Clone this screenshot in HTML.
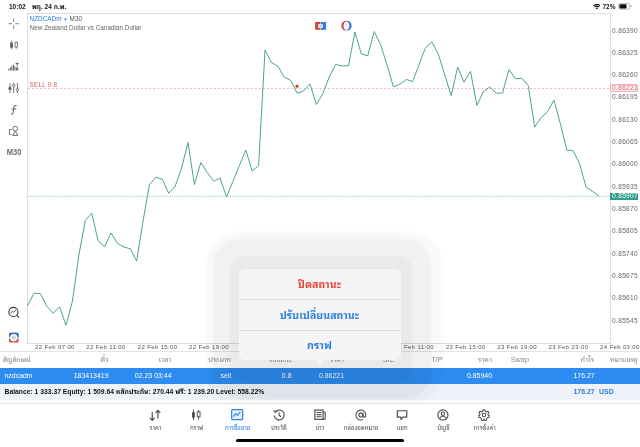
<!DOCTYPE html>
<html lang="th"><head><meta charset="utf-8"><title>MetaTrader</title>
<style>
html,body{margin:0;padding:0;}
body{will-change:transform;width:640px;height:447px;position:relative;overflow:hidden;background:#fff;font-family:"Liberation Sans","Noto Sans Thai Looped","Loma","Noto Sans Thai",sans-serif;color:#000;}
div{position:absolute;white-space:nowrap;box-sizing:border-box;}
.sb{top:2.6px;font-size:6.5px;font-weight:bold;line-height:8px;color:#111;}
.pl{left:612px;font-size:6.6px;line-height:8px;color:#666;letter-spacing:0.32px;}
.tl{top:343.6px;font-size:6px;line-height:7px;color:#555;letter-spacing:0.37px;}
.th{top:355.3px;font-size:7.3px;line-height:10px;color:#8a8a8a;}
.td{top:370.8px;font-size:6.95px;line-height:10px;color:#fff;}
.r{text-align:right;}
.tab{top:409.3px;width:50px;height:24px;text-align:center;color:#555;}
.tab svg{display:block;margin:0 auto;overflow:visible;}
.tab.on{color:#2f80e4;}
.tt{position:absolute;top:14.7px;left:0;width:50px;text-align:center;font-size:6px;line-height:8px;}
.pi{left:238.5px;width:162px;text-align:center;font-size:10.6px;font-weight:bold;line-height:16px;color:#2f7fe0;}
</style></head><body>
<!-- status bar -->
<div class="sb" style="left:9px">10:02</div>
<div class="sb" style="left:32px">พฤ. 24 ก.พ.</div>
<div class="sb" style="left:602.5px">72%</div>
<svg style="position:absolute;left:592.8px;top:3.7px" width="7.6" height="5.6" viewBox="0 0 7.6 5.6"><path d="M0.3 1.9a4.9 4.9 0 0 1 7 0M1.5 3.1a3.2 3.2 0 0 1 4.6 0" fill="none" stroke="#111" stroke-width="1.05"/><path d="M2.6 4.2a1.7 1.7 0 0 1 2.4 0L3.8 5.5z" fill="#111"/></svg>
<svg style="position:absolute;left:617.6px;top:3.4px" width="14.6" height="7" viewBox="0 0 14 7"><rect x="0.4" y="0.4" width="11.2" height="5.8" rx="1.6" fill="none" stroke="#999" stroke-width="0.7"/><rect x="1.2" y="1.2" width="7" height="4.2" rx="0.9" fill="#111"/><path d="M12.3 2.3v2a1 1 0 0 0 0-2z" fill="#999"/></svg>

<!-- chart frame -->
<div style="left:27px;top:12.6px;width:584px;height:331px;border:1px solid #dedede;"></div>
<div style="left:29.6px;top:15.4px;font-size:6.4px;line-height:8px;color:#555;"><span style="color:#2a7be0">NZDCADm</span> <span style="color:#2a7be0;font-size:4.5px;position:relative;top:-0.5px">&#9660;</span> M30</div>
<div style="left:29.6px;top:23.5px;font-size:6.4px;line-height:8px;color:#666;">New Zealand Dollar vs Canadian Dollar</div>

<svg style="position:absolute;left:0;top:0" width="640" height="447" viewBox="0 0 640 447">
<line x1="28" y1="88.5" x2="610" y2="88.5" stroke="#efa8a8" stroke-width="0.85" stroke-dasharray="1.8 2.25"/>
<line x1="28" y1="196.4" x2="610" y2="196.4" stroke="#5fb5a0" stroke-width="0.7" stroke-dasharray="0.9 0.9"/>
<polyline points="27.50,306.00 33.92,293.25 40.34,293.50 46.76,306.00 53.18,313.25 59.60,306.75 66.02,325.25 72.44,301.00 78.86,255.00 85.28,220.50 91.70,213.25 98.12,240.75 104.54,246.75 110.96,233.00 117.38,243.25 123.80,247.00 130.22,248.75 136.64,261.00 143.06,221.00 149.48,184.50 155.90,177.25 162.32,179.25 168.74,193.25 175.16,186.25 181.58,168.00 188.00,142.50 194.42,184.50 200.84,162.50 207.26,172.50 213.68,181.25 220.10,178.00 226.52,197.00 232.94,181.25 239.36,165.50 245.78,150.00 252.20,171.00 258.62,165.50 265.04,50.00 271.46,62.50 277.88,66.25 284.30,77.00 290.72,80.50 297.14,93.25 303.56,91.00 309.98,84.00 316.40,104.50 322.82,93.75 329.24,77.00 335.66,64.50 342.08,66.00 348.50,65.75 354.92,32.00 361.34,54.00 367.76,55.75 374.18,31.50 380.60,44.50 387.02,65.00 393.44,86.75 399.86,84.25 406.28,79.50 412.70,81.50 419.12,64.50 425.54,47.50 431.96,42.00 438.38,54.25 444.80,75.00 451.22,95.75 457.64,67.00 464.06,82.25 470.48,71.25 476.90,105.50 483.32,91.75 489.74,87.00 496.16,93.25 502.58,93.00 509.00,69.50 515.42,78.75 521.84,78.25 528.26,85.50 534.68,127.00 541.10,117.50 547.52,111.75 553.94,100.00 560.36,123.75 566.78,150.00 573.20,150.75 579.62,163.75 586.04,187.00 592.46,191.25 598.88,196.00" fill="none" stroke="#48a688" stroke-width="1.0" stroke-linejoin="round"/>
<circle cx="297" cy="86.2" r="1.6" fill="#d63a3a"/>
<!-- small chart buttons -->
<rect x="315.1" y="22" width="5.3" height="7.8" fill="#d24640"/><rect x="320.8" y="22" width="5.3" height="7.8" fill="#2f7fe0"/><rect x="318.2" y="23.9" width="4.7" height="4.1" rx="0.6" fill="#e4e7ee"/><rect x="319.6" y="24.9" width="1.9" height="2.1" fill="#b9c3d4"/>
<path d="M346.2 20.8a4.9 4.9 0 0 0 0 9.8z" fill="#cf4a44"/><path d="M346.7 20.8a4.9 4.9 0 0 1 0 9.8z" fill="#2f6fd6"/><ellipse cx="346.45" cy="25.7" rx="2.9" ry="3.9" fill="#fff"/><path d="M346.4 23.6v2.3l1.1 0.9" stroke="#8fa3c4" stroke-width="0.55" fill="none"/>
<!-- left tools -->
<g stroke="#777" stroke-width="0.9" fill="none">
<path d="M13.7 18.6v3.4M13.7 25.4v3.4M8.6 23.7h3.4M15.4 23.7h3.6"/>
</g>
<g stroke="#666" stroke-width="0.8" fill="none">
<path d="M11.6 40.6v8.8M16.3 41.4v7.2"/><rect x="10.5" y="43" width="2.2" height="4.2" fill="#666"/><rect x="15.1" y="42.6" width="2.4" height="4.4" fill="#fff"/>
</g>
<g fill="#5e5e5e"><rect x="8.4" y="68.6" width="1" height="1.9"/><rect x="9.9" y="67.4" width="1" height="3.1"/><rect x="11.4" y="66" width="1" height="4.5"/><rect x="12.9" y="64.8" width="1" height="5.7"/><rect x="14.4" y="66.4" width="1" height="4.1"/><rect x="15.9" y="67.2" width="1" height="3.3"/><rect x="17.3" y="67.4" width="1" height="3.1"/><rect x="15.6" y="62.9" width="3.1" height="1"/><rect x="16.65" y="62.9" width="1.05" height="3.4"/></g>
<g stroke="#666" stroke-width="0.9" fill="#fff"><path d="M10 83v10M13.7 83v10M17.4 83v10"/><circle cx="10" cy="88.4" r="1.3" fill="#666"/><circle cx="13.7" cy="85.4" r="1.3"/><circle cx="17.4" cy="89.8" r="1.3"/></g>
<path d="M16.6 105.6c-1.6-0.6-2.4 0.3-2.7 2l-0.9 5c-0.2 1.2-0.8 1.8-2 1.5M11.4 109h4.8" stroke="#666" stroke-width="1.05" fill="none"/>
<g stroke="#666" stroke-width="0.95" fill="none"><circle cx="15.3" cy="128.6" r="2.4"/><path d="M12.7 135.4l2.6-4.4 2.6 4.4z"/><path d="M11.6 129.6h-2.2v5h1.8"/></g>
<g stroke="#3a3a3a" stroke-width="1.1" fill="none"><circle cx="13.4" cy="311.9" r="4.55"/><path d="M16.7 315.2l2.6 2.5"/><path d="M10.6 313.2l1.7-1.9 1.4 0.9 2.2-2.2" stroke-width="0.9"/></g>
<rect x="9" y="332.8" width="9.5" height="9.8" rx="1.5" fill="#cc4a44"/><path d="M9 337.6h9.5v-3.3a1.5 1.5 0 0 0-1.5-1.5h-6.5a1.5 1.5 0 0 0-1.5 1.5z" fill="#2f6fd2"/><rect x="9" y="337.1" width="9.5" height="1.1" fill="#fff"/><circle cx="13.75" cy="337.65" r="3.6" fill="#fff"/><path d="M13.75 335.4v4.5M11.5 337.65h4.5" stroke="#9aa0aa" stroke-width="0.6"/><circle cx="13.75" cy="337.65" r="1.9" fill="none" stroke="#c8ccd4" stroke-width="0.5"/>
</svg>
<div style="left:3.5px;top:148px;width:20px;text-align:center;font-size:8.4px;font-weight:bold;line-height:9px;color:#6a6a6a;transform:scaleX(0.9)">M30</div>
<div style="left:29.5px;top:82.3px;font-size:6.3px;line-height:6px;color:#d86060;letter-spacing:0.25px">SELL 0.8</div>

<div class="pl" style="top:26.50px">0.86390</div><div class="pl" style="top:48.83px">0.86325</div><div class="pl" style="top:71.16px">0.86260</div><div class="pl" style="top:93.49px">0.86195</div><div class="pl" style="top:115.82px">0.86130</div><div class="pl" style="top:138.15px">0.86065</div><div class="pl" style="top:160.48px">0.86000</div><div class="pl" style="top:182.81px">0.85935</div><div class="pl" style="top:205.14px">0.85870</div><div class="pl" style="top:227.47px">0.85805</div><div class="pl" style="top:249.80px">0.85740</div><div class="pl" style="top:272.13px">0.85675</div><div class="pl" style="top:294.46px">0.85610</div><div class="pl" style="top:316.79px">0.85545</div>
<div style="left:610.2px;top:84.4px;width:27.4px;height:8px;border:0.8px solid #f3b0b0;border-radius:1px;background:#fdeeee"></div>
<div class="pl" style="top:84.4px;color:#d9706f">0.86221</div>
<div style="left:610px;top:192.5px;width:28.2px;height:7.5px;background:#309d8c"></div>
<div class="pl" style="top:192.2px;color:#fff">0.85907</div>
<div class="tl" style="left:35.00px">22 Feb 07:00</div><div class="tl" style="left:86.36px">22 Feb 11:00</div><div class="tl" style="left:137.72px">22 Feb 15:00</div><div class="tl" style="left:189.08px">22 Feb 19:00</div><div class="tl" style="left:240.44px">22 Feb 23:00</div><div class="tl" style="left:291.80px">23 Feb 03:00</div><div class="tl" style="left:343.16px">23 Feb 07:00</div><div class="tl" style="left:394.52px">23 Feb 11:00</div><div class="tl" style="left:445.88px">23 Feb 15:00</div><div class="tl" style="left:497.24px">23 Feb 19:00</div><div class="tl" style="left:548.60px">23 Feb 23:00</div><div class="tl" style="left:599.96px">24 Feb 03:00</div>

<!-- table -->
<div style="left:0;top:351px;width:640px;height:0.8px;background:#e4e4e4"></div>
<div class="th" style="left:3px;font-size:6.6px">สัญลักษณ์</div>
<div class="th r" style="right:531.5px">ตั๋ว</div>
<div class="th r" style="right:468.5px">เวลา</div>
<div class="th r" style="right:409px">ประเภท</div>
<div class="th r" style="right:347.5px">Volume</div>
<div class="th r" style="right:296px">ราคา</div>
<div class="th r" style="right:246.2px">S/L</div>
<div class="th r" style="right:197.5px">T/P</div>
<div class="th r" style="right:148px">ราคา</div>
<div class="th r" style="right:111px">Swap</div>
<div class="th r" style="right:46px">กำไร</div>
<div class="th r" style="right:2.5px;font-size:7px">หมายเหตุ</div>
<div style="left:0;top:367.8px;width:640px;height:16.2px;background:#2e8cf0"></div>
<div class="td" style="left:4.5px">nzdcadm</div>
<div class="td r" style="right:531.5px">183413419</div>
<div class="td r" style="right:468.5px">02.23 03:44</div>
<div class="td r" style="right:409px">sell</div>
<div class="td r" style="right:348.5px">0.8</div>
<div class="td r" style="right:296px">0.86221</div>
<div class="td r" style="right:148px">0.85940</div>
<div class="td r" style="right:45.3px">176.27</div>
<div style="left:0;top:384px;width:640px;height:16px;background:#eff2f8"></div>
<div style="left:4.5px;top:387.2px;font-size:6.77px;font-weight:bold;line-height:10px;color:#111">Balance: 1 333.37 Equity: 1 509.64 หลักประกัน: 270.44 ฟรี: 1 239.20 Level: 558.22%</div>
<div class="r" style="right:45.3px;top:387.2px;font-size:6.95px;font-weight:bold;line-height:10px;color:#2a7be0">176.27</div>
<div style="left:599px;top:387.2px;font-size:6.95px;font-weight:bold;line-height:10px;color:#2a7be0">USD</div>
<!-- popover -->
<div style="left:205.5px;top:231.5px;width:237px;height:173px;border-radius:34px;background:rgba(0,0,0,0.024);filter:blur(1.5px)"></div>
<div style="left:212.5px;top:238px;width:218px;height:161px;border-radius:27px;background:rgba(0,0,0,0.035);filter:blur(1.5px)"></div>
<div style="left:228.5px;top:255.5px;width:184px;height:126px;border-radius:14px;background:rgba(0,0,0,0.03);filter:blur(1.2px)"></div>
<div style="left:238.5px;top:268.8px;width:162.4px;height:91.5px;border-radius:6px;background:#f5f5f5;"></div>
<svg style="position:absolute;left:314.2px;top:360.2px" width="11.6" height="7.4" viewBox="0 0 14 7"><path d="M0 0h14c-3 0-4.6 3-5.6 5.2-0.7 1.4-2.1 1.4-2.8 0C4.6 3 3 0 0 0z" fill="#f5f5f5"/></svg>
<div style="left:238.5px;top:299.2px;width:162px;height:0.8px;background:#dedede"></div>
<div style="left:238.5px;top:330.4px;width:162px;height:0.8px;background:#dedede"></div>
<div class="pi" style="top:276px;color:#e8453c">ปิดสถานะ</div>
<div class="pi" style="top:306.6px">ปรับเปลี่ยนสถานะ</div>
<div class="pi" style="top:337.4px">กราฟ</div>
<div style="left:0;top:403px;width:640px;height:1px;background:#e2e2e2"></div>
<div class="tab" style="left:130.40px"><svg width="12.4" height="11.9" viewBox="0 0 11.5 11"><path d="M3 3v7.4M0.8 8.2L3 10.5 5.2 8.2M8.3 8.6v-7.4M6.1 3.5L8.3 1.2 10.5 3.5" fill="none" stroke="#4c4c4c" stroke-width="1.1"/></svg><div class="tt">ราคา</div></div><div class="tab" style="left:171.55px"><svg width="12.4" height="11.9" viewBox="0 0 11.5 11"><path d="M3.2 0.5v10M8 1v9" stroke="#4c4c4c" stroke-width="0.9" fill="none"/><rect x="1.9" y="3" width="2.6" height="5" fill="#4c4c4c"/><rect x="6.7" y="2.6" width="2.6" height="4.6" fill="#fff" stroke="#4c4c4c" stroke-width="0.9"/></svg><div class="tt">กราฟ</div></div><div class="tab on" style="left:212.70px"><svg width="12.4" height="11.9" viewBox="0 0 11.5 11"><rect x="0.6" y="0.6" width="10.3" height="9.3" rx="1" fill="#e8f1fd" stroke="#2f80e4" stroke-width="1.1"/><path d="M2.2 7l2-2.6 1.8 1.4 2.8-3.2" fill="none" stroke="#2f80e4" stroke-width="1.1"/></svg><div class="tt">การซื้อขาย</div></div><div class="tab" style="left:253.85px"><svg width="12.4" height="11.9" viewBox="0 0 11.5 11"><path d="M2.2 2.6A4.6 4.6 0 1 1 1.2 6" fill="none" stroke="#4c4c4c" stroke-width="1.1"/><path d="M0.5 1.2l1.6 1.8 1.9-1.2" fill="none" stroke="#4c4c4c" stroke-width="1"/><path d="M5.7 3v2.8l1.8 1.4" fill="none" stroke="#4c4c4c" stroke-width="1"/></svg><div class="tt">ประวัติ</div></div><div class="tab" style="left:295.00px"><svg width="12.4" height="11.9" viewBox="0 0 11.5 11"><rect x="0.8" y="1" width="7.6" height="8.6" fill="none" stroke="#4c4c4c" stroke-width="1.1"/><path d="M8.4 3h2v5.8a0.9 0.9 0 0 1-2 0M2.3 3.2h4.6M2.3 5.2h4.6M2.3 7.2h4.6" fill="none" stroke="#4c4c4c" stroke-width="1"/></svg><div class="tt">ข่าว</div></div><div class="tab" style="left:336.15px"><svg width="12.4" height="11.9" viewBox="0 0 11.5 11"><circle cx="5.5" cy="5.5" r="1.9" fill="none" stroke="#4c4c4c" stroke-width="1"/><path d="M7.4 3.6v2.6a1.2 1.2 0 0 0 2.6 0v-0.7A4.6 4.6 0 1 0 7.6 9.6" fill="none" stroke="#4c4c4c" stroke-width="1"/></svg><div class="tt">กล่องจดหมาย</div></div><div class="tab" style="left:377.30px"><svg width="12.4" height="11.9" viewBox="0 0 11.5 11"><path d="M1.2 1.6h8.8v6H6.4L4.6 9.8V7.6H1.2z" fill="none" stroke="#4c4c4c" stroke-width="1.1" stroke-linejoin="round"/></svg><div class="tt">แชท</div></div><div class="tab" style="left:418.45px"><svg width="12.4" height="11.9" viewBox="0 0 11.5 11"><circle cx="5.5" cy="5.5" r="4.7" fill="none" stroke="#4c4c4c" stroke-width="1.05"/><circle cx="5.5" cy="4.3" r="1.6" fill="none" stroke="#4c4c4c" stroke-width="1"/><path d="M2.4 8.9c0.6-1.6 1.7-2.2 3.1-2.2s2.5 0.6 3.1 2.2" fill="none" stroke="#4c4c4c" stroke-width="1"/></svg><div class="tt">บัญชี</div></div><div class="tab" style="left:459.60px"><svg width="12.4" height="11.9" viewBox="0 0 11.5 11"><circle cx="5.5" cy="5.5" r="1.6" fill="none" stroke="#4c4c4c" stroke-width="1"/><path d="M4.6 0.8h1.8l0.3 1.4 1 0.5 1.3-0.7 1.1 1.4-0.9 1.1 0.2 1 1.2 0.7-0.5 1.7-1.4 0-0.8 0.8 0.1 1.4-1.7 0.5-0.8-1.2-0.8 1.2-1.7-0.5 0.1-1.4-0.8-0.8-1.4 0-0.5-1.7 1.2-0.7 0.2-1-0.9-1.1 1.1-1.4 1.3 0.7 1-0.5z" fill="none" stroke="#4c4c4c" stroke-width="0.95" stroke-linejoin="round"/></svg><div class="tt">การตั้งค่า</div></div>
<div style="left:236px;top:439.2px;width:168px;height:3px;border-radius:1.5px;background:#000"></div>

</body></html>
